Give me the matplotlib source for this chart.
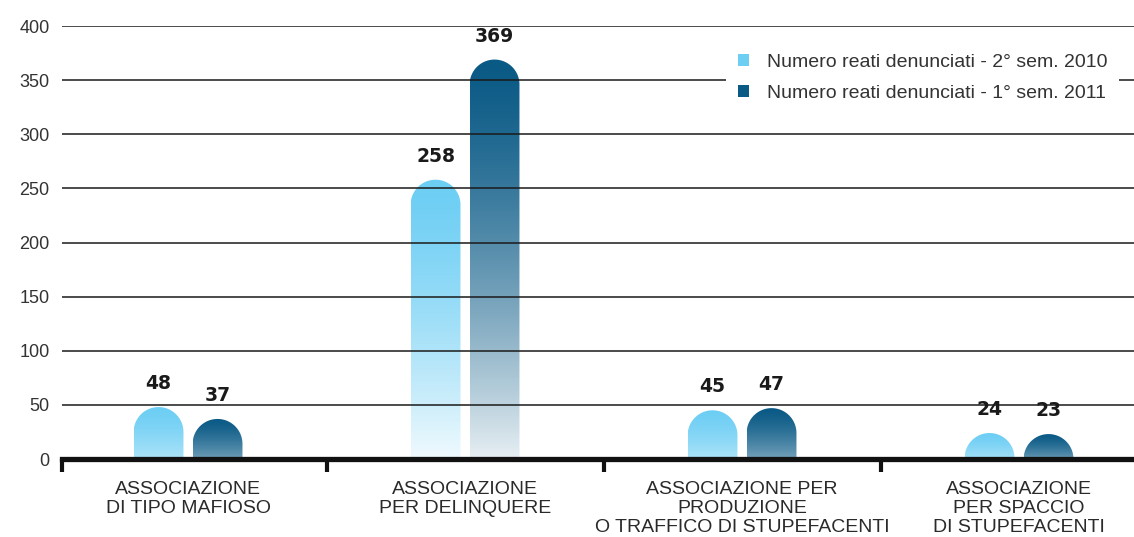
import numpy as np
import matplotlib.pyplot as plt
from matplotlib.path import Path
from matplotlib.patches import PathPatch, Patch
from matplotlib.colors import to_rgb

# dati
categorie = ['ASSOCIAZIONE\nDI TIPO MAFIOSO',
             'ASSOCIAZIONE\nPER DELINQUERE',
             'ASSOCIAZIONE PER\nPRODUZIONE\nO TRAFFICO DI STUPEFACENTI',
             'ASSOCIAZIONE\nPER SPACCIO\nDI STUPEFACENTI']
reati_2010 = [48, 258, 45, 24]
reati_2011 = [37, 369, 47, 23]
serie = ['Numero reati denunciati - 2° sem. 2010',
         'Numero reati denunciati - 1° sem. 2011']
colori = ['#6dcef4', '#0a5a86']

W, H = 1134, 537
fig = plt.figure(figsize=(W / 100, H / 100), dpi=100)
ax = fig.add_axes([62 / W, 78 / H, 1 - 62 / W, 433 / H])

x = np.arange(len(categorie))
larg = 0.18
off = 0.1065
x0, x1 = -0.455, 3.415
ax.set_xlim(x0, x1)
ax.set_ylim(0, 400)

# scala pixel per unita' (per la cupola arrotondata)
px_x = (W - 62) / (x1 - x0)
px_y = 433 / 400


def barra(xc, h, colore):
    rx = larg / 2
    ry = rx * px_x / px_y
    base = max(h - ry, 0)
    ang = np.linspace(0, np.pi, 60)
    top = np.column_stack([xc + rx * np.cos(ang), base + ry * np.sin(ang)])
    verts = np.vstack([[xc + rx, 0], top, [xc - rx, 0], [xc + rx, 0]])
    patch = PathPatch(Path(verts), facecolor='none', edgecolor='none')
    ax.add_patch(patch)
    # sfumatura dall'alto verso il basso
    f = min(0.9, 0.33 + 0.0022 * h)
    t = np.linspace(0, 1, 200) ** 1.4
    c = np.array(to_rgb(colore))
    col = c[None, :] * (1 - f * t[:, None]) + f * t[:, None]
    im = ax.imshow(col[:, None, :], extent=[xc - rx, xc + rx, 0, base + ry],
                   origin='upper', aspect='auto', zorder=1,
                   interpolation='bilinear')
    im.set_clip_path(patch)


for i in range(len(categorie)):
    barra(x[i] - off, reati_2010[i], colori[0])
    barra(x[i] + off, reati_2011[i], colori[1])
    for xv, v in [(x[i] - off, reati_2010[i]), (x[i] + off, reati_2011[i])]:
        ax.annotate(str(v), (xv, v), xytext=(0, 10), textcoords='offset points',
                    ha='center', va='bottom', fontsize=13.5, fontweight='heavy',
                    color='#1a1a1a', family='DejaVu Sans', zorder=5)

# griglia sopra le barre
for yv in range(50, 401, 50):
    ax.axhline(yv, color='#1a1a1a', lw=1.1, zorder=3)

ax.set_xlim(x0, x1)
ax.set_ylim(0, 400)
for s in ['top', 'right', 'left']:
    ax.spines[s].set_visible(False)
ax.spines['bottom'].set_linewidth(3.8)
ax.spines['bottom'].set_color('#111111')
ax.spines['bottom'].set_zorder(4)

ax.set_yticks(range(0, 401, 50))
ax.tick_params(axis='y', length=0, pad=9, labelsize=13, labelcolor='#333333')
ax.set_xticks(x)
ax.set_xticklabels(categorie, fontsize=14, color='#2a2a2a', family='Liberation Sans',
                   linespacing=1.13)
ax.set_xticks([x0, 0.5, 1.5, 2.5], minor=True)
ax.tick_params(axis='x', which='major', length=0, pad=16)
ax.tick_params(axis='x', which='minor', length=9, width=3, color='#111111')
for lab in ax.get_yticklabels():
    lab.set_family('Liberation Sans')

maniglie = [Patch(facecolor=c, edgecolor='none') for c in colori]
leg = ax.legend(maniglie, serie, loc='upper right', bbox_to_anchor=(0.995, 0.985),
                frameon=True, facecolor='white', edgecolor='none', framealpha=1,
                handlelength=0.6, handleheight=0.6, handletextpad=0.9,
                labelspacing=0.7, borderpad=0.6,
                prop={'family': 'Liberation Sans', 'size': 14})
leg.set_zorder(6)
for t in leg.get_texts():
    t.set_color('#333333')

fig.savefig('out.png', dpi=100)
